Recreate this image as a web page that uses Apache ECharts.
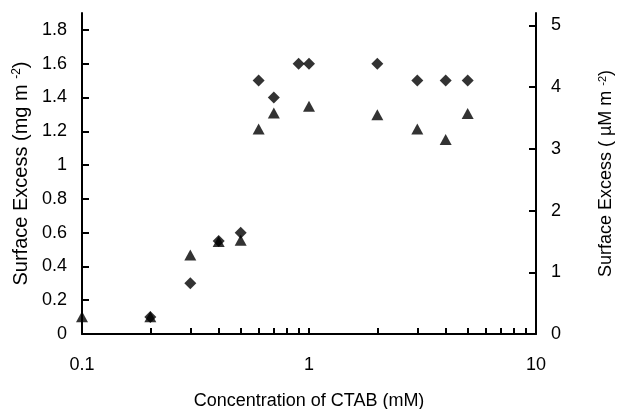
<!DOCTYPE html>
<html>
<head>
<meta charset="utf-8">
<script src="https://cdn.jsdelivr.net/npm/echarts@6/dist/echarts.min.js"></script>
<style>
  html, body { margin: 0; padding: 0; background: #fff; }
  #chart { width: 621px; height: 409px; }
</style>
</head>
<body>
<div id="chart"></div>
<script>
// CTAB concentration (mM)
const diamondConc = [0.2, 0.3, 0.4, 0.5, 0.6, 0.7, 0.9, 1, 2, 3, 4, 5];
// surface excess, mg m-2 (left axis)
const diamondExcess = [0.10, 0.30, 0.55, 0.60, 1.50, 1.40, 1.60, 1.60, 1.60, 1.50, 1.50, 1.50];

const triangleConc = [0.1, 0.2, 0.3, 0.4, 0.5, 0.6, 0.7, 1, 2, 3, 4, 5];
// surface excess, µM m-2 (right axis)
const triangleExcess = [0.28, 0.28, 1.28, 1.50, 1.52, 3.32, 3.58, 3.69, 3.55, 3.32, 3.15, 3.57];

const xTicks = [0.1, 0.2, 0.3, 0.4, 0.5, 0.6, 0.7, 0.8, 0.9, 1, 2, 3, 4, 5, 6, 7, 8, 9, 10];
const leftTicks = [0, 0.2, 0.4, 0.6, 0.8, 1, 1.2, 1.4, 1.6, 1.8];
const rightTicks = [0, 1, 2, 3, 4, 5];

const font = 'Liberation Sans';
const axisLine = { lineStyle: { color: '#000', width: 2 } };
const tickStyle = { color: '#000', width: 2 };
const labelStyle = { fontFamily: font, fontSize: 18, color: '#000' };

function titleRich(size) {
    return {
        a: { fontFamily: font, fontSize: size, color: '#000' },
        sup: { fontFamily: font, fontSize: Math.round(size * 0.62), color: '#000', verticalAlign: 'top' }
    };
}

const chart = echarts.init(document.getElementById('chart'));
chart.setOption({
    animation: false,
    backgroundColor: '#fff',
    grid: { left: 82, right: 85, top: 13, bottom: 75, containLabel: false, outerBoundsMode: 'none' },
    xAxis: {
        type: 'log',
        logBase: 10,
        min: 0.1,
        max: 10,
        name: 'Concentration of CTAB (mM)',
        nameLocation: 'middle',
        nameGap: 58,
        nameTextStyle: { fontFamily: font, fontSize: 18, color: '#000' },
        axisLine: axisLine,
        axisTick: { inside: true, length: 6, lineStyle: tickStyle, customValues: xTicks },
        axisLabel: Object.assign({ margin: 22 }, labelStyle),
        splitLine: { show: false },
        minorSplitLine: { show: false }
    },
    yAxis: [
        {
            type: 'value',
            min: 0,
            max: 1.9,
            name: '{a|Surface Excess (mg m }{sup|-2}{a|)}',
            nameLocation: 'middle',
            nameRotate: 90,
            nameGap: 46,
            nameTextStyle: { rich: titleRich(20) },
            axisLine: { show: true, lineStyle: axisLine.lineStyle },
            axisTick: { inside: true, length: 7, lineStyle: tickStyle, customValues: leftTicks },
            axisLabel: Object.assign({ margin: 15, customValues: leftTicks }, labelStyle),
            splitLine: { show: false }
        },
        {
            type: 'value',
            min: 0,
            max: 5.2,
            position: 'right',
            name: '{a|Surface Excess ( µM m }{sup|-2}{a|)}',
            nameLocation: 'middle',
            nameRotate: 90,
            nameGap: 61,
            nameTextStyle: { rich: titleRich(18) },
            axisLine: { show: true, lineStyle: axisLine.lineStyle },
            axisTick: { inside: true, length: 7, lineStyle: tickStyle, customValues: rightTicks },
            axisLabel: Object.assign({ margin: 15, customValues: rightTicks }, labelStyle),
            splitLine: { show: false }
        }
    ],
    series: [
        {
            name: 'mg',
            type: 'scatter',
            yAxisIndex: 0,
            symbol: 'diamond',
            symbolSize: [12, 12],
            itemStyle: { color: '#000' },
            data: diamondConc.map((c, i) => [c, diamondExcess[i]])
        },
        {
            name: 'umol',
            type: 'scatter',
            yAxisIndex: 1,
            symbol: 'triangle',
            symbolSize: [12, 11],
            itemStyle: { color: '#000' },
            data: triangleConc.map((c, i) => [c, triangleExcess[i]])
        }
    ]
});
</script>
</body>
</html>
